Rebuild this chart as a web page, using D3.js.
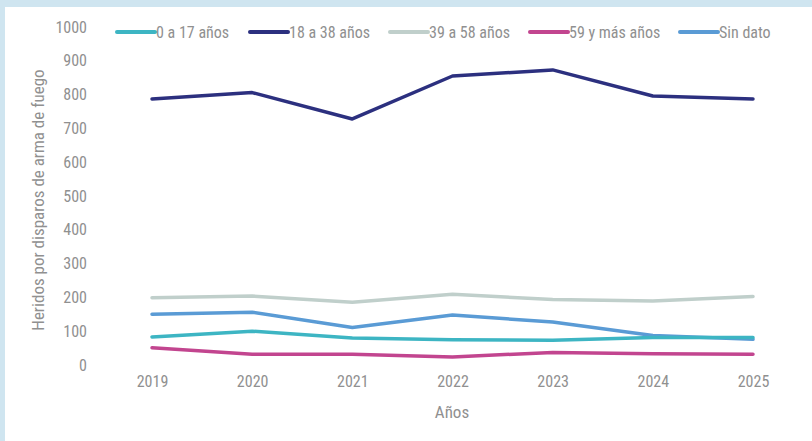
<!DOCTYPE html>
<html>
<head>
<meta charset="utf-8">
<script src="https://cdn.jsdelivr.net/npm/d3@7"></script>
<style>
  body { margin: 0; background: #cfe5f0; }
  svg { display: block; }
  text { font-family: "Roboto Condensed", "Liberation Sans Narrow", "DejaVu Sans Condensed", sans-serif; fill: #909090; }
</style>
</head>
<body>
<svg></svg>
<script>
// Data
let years = [2019, 2020, 2021, 2022, 2023, 2024, 2025];
let seriesNames = ['0 a 17 años', '18 a 38 años', '39 a 58 años', '59 y más años', 'Sin dato'];
let age0to17 = [83, 100, 80, 75, 73, 81, 81];
let age18to38 = [787, 806, 728, 855, 873, 796, 787];
let age39to58 = [199, 204, 186, 209, 194, 189, 203];
let age59plus = [51, 32, 32, 24, 37, 33, 32];
let noData = [150, 156, 111, 148, 127, 87, 76];
let yTicks = [0, 100, 200, 300, 400, 500, 600, 700, 800, 900, 1000];
let colors = ['#3db5c3', '#2c307f', '#c0cfcb', '#c2458f', '#5a9bd5'];

let allSeries = [age0to17, age18to38, age39to58, age59plus, noData];

// SVG size
let width = 812, height = 441;
let svg = d3.select('svg').attr('width', width).attr('height', height);

// white panel
svg.append('rect')
    .attr('x', 5).attr('y', 7)
    .attr('width', width - 5).attr('height', height - 7)
    .attr('fill', '#ffffff');

// Scales
let x = d3.scalePoint().domain(years).range([152, 753]);
let y = d3.scaleLinear().domain([0, 1000]).range([365, 27]);

// Y axis labels
let yAxis = d3.axisLeft(y).tickValues(yTicks).tickFormat(d3.format('d')).tickSize(0).tickPadding(0);
let yG = svg.append('g').attr('transform', 'translate(87,0)').call(yAxis);
yG.select('.domain').remove();
yG.selectAll('text').style('font-size', '16px').attr('fill', '#909090');

// X axis labels
let xAxis = d3.axisBottom(x).tickFormat(d3.format('d')).tickSize(0).tickPadding(0);
let xG = svg.append('g').attr('transform', 'translate(0,376)').call(xAxis);
xG.select('.domain').remove();
xG.selectAll('text').style('font-size', '16px').attr('fill', '#909090');

// Axis titles
svg.append('text')
    .attr('x', 452).attr('y', 418)
    .attr('text-anchor', 'middle')
    .style('font-size', '17px')
    .text('Años');

svg.append('text')
    .attr('transform', 'translate(44,200) rotate(-90)')
    .attr('text-anchor', 'middle')
    .style('font-size', '17px')
    .text('Heridos por disparos de arma de fuego');

// Lines
let line = d3.line()
    .x((d, i) => x(years[i]))
    .y((d) => y(d));

// draw order: light ones first
let order = [2, 4, 0, 3, 1];
order.forEach((k) => {
    svg.append('path')
        .datum(allSeries[k])
        .attr('d', line)
        .attr('fill', 'none')
        .attr('stroke', colors[k])
        .attr('stroke-width', 3.5)
        .attr('stroke-linejoin', 'round')
        .attr('stroke-linecap', 'round');
});

// Legend
let legendX = [117, 250, 390, 530, 680];
let legend = svg.append('g');
seriesNames.forEach((name, i) => {
    legend.append('line')
        .attr('x1', legendX[i]).attr('x2', legendX[i] + 38)
        .attr('y1', 32).attr('y2', 32)
        .attr('stroke', colors[i])
        .attr('stroke-width', 4)
        .attr('stroke-linecap', 'round');
    legend.append('text')
        .attr('x', legendX[i] + 39).attr('y', 32)
        .attr('dy', '0.35em')
        .style('font-size', '16px')
        .text(name);
});
</script>
</body>
</html>
